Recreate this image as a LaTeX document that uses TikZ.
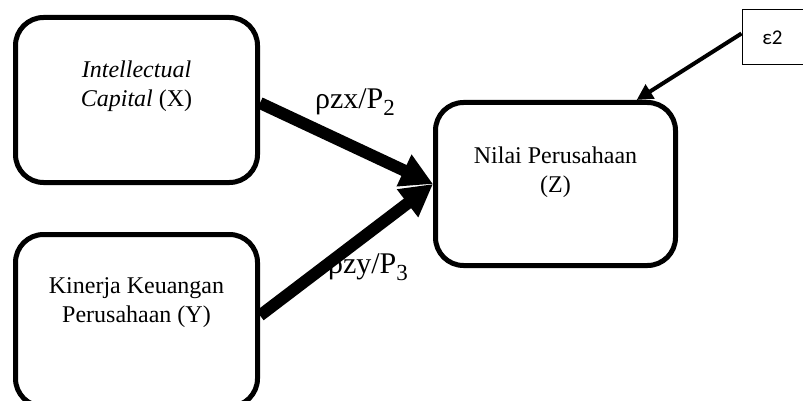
\documentclass[tikz,border=0pt]{standalone}
\usepackage{fontspec}
\setmainfont{Liberation Serif}
\newfontfamily\epsfont{Carlito}
\usetikzlibrary{arrows.meta}
\newcommand{\mysub}[1]{\raisebox{-0.22em}{\fontsize{23}{26}\selectfont #1}}
\begin{document}
\begin{tikzpicture}[x=1pt,y=-1pt,
  varbox/.style={draw,line width=5pt,rounded corners=28pt,minimum width=242pt,minimum height=165pt,align=center,inner sep=0pt,font=\fontsize{24}{29}\selectfont},
  bigarrow/.style={line width=12pt,-{Triangle[length=32pt,width=33pt]}},
  lbl/.style={font=\fontsize{30}{32}\selectfont,inner sep=0pt}]
\useasboundingbox (0,0) rectangle (803,401);
\node[varbox] (X) at (136.5,100) {\textit{Intellectual}\\\textit{Capital} (X)\\[-6pt]\strut};
\node[varbox,minimum height=172pt] (Y) at (136.5,320.5) {Kinerja Keuangan\\Perusahaan (Y)\\[4pt]\strut};
\node[varbox,minimum width=240pt,minimum height=163pt] (Z) at (555.5,184) {Nilai Perusahaan\\(Z)\\[-10pt]\strut};
\node[draw,line width=1pt,minimum width=61pt,minimum height=55pt,inner sep=0pt,font=\epsfont\fontsize{21}{24}\selectfont] (e) at (772.5,37.5) {ε2};
\node[lbl] (lx) at (355,102) {ρzx/P\mysub{2}};
\node[lbl] (ly) at (368,267) {ρzy/P\mysub{3}};
\draw[bigarrow] ([yshift=-3pt]X.east) -- (Z.west);
\draw[bigarrow] ([yshift=5pt]Y.east) -- (Z.west);
\draw[line width=4pt,-{Triangle[length=16pt,width=16pt]}] ([yshift=4pt]e.west) -- (Z.46);
\end{tikzpicture}
\end{document}
